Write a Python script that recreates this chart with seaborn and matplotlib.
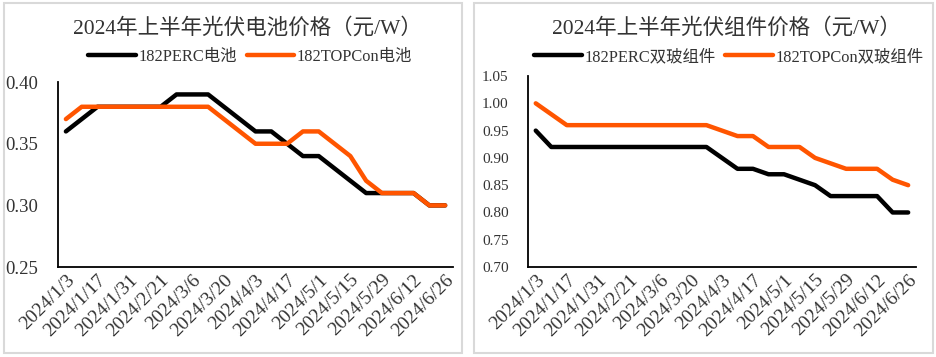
import matplotlib
matplotlib.use('Agg')
import matplotlib.pyplot as plt
import matplotlib.patches as mpatches
import seaborn as sns
import pandas as pd
import numpy as np

sns.set_style('white')
plt.rcParams['font.family'] = ['Liberation Serif', 'Noto Sans CJK SC', 'DejaVu Sans']

# Data (weekly prices, yuan/W)
dates = ['2024/1/3', '2024/1/10', '2024/1/17', '2024/1/24', '2024/1/31', '2024/2/7',
         '2024/2/21', '2024/2/28', '2024/3/6', '2024/3/13', '2024/3/20', '2024/3/27',
         '2024/4/3', '2024/4/10', '2024/4/17', '2024/4/24', '2024/5/1', '2024/5/8',
         '2024/5/15', '2024/5/22', '2024/5/29', '2024/6/5', '2024/6/12', '2024/6/19',
         '2024/6/26']
perc_cell = [0.36, 0.37, 0.38, 0.38, 0.38, 0.38, 0.38, 0.39, 0.39, 0.39, 0.38, 0.37,
             0.36, 0.36, 0.35, 0.34, 0.34, 0.33, 0.32, 0.31, 0.31, 0.31, 0.31, 0.30, 0.30]
topcon_cell = [0.37, 0.38, 0.38, 0.38, 0.38, 0.38, 0.38, 0.38, 0.38, 0.38, 0.37, 0.36,
               0.35, 0.35, 0.35, 0.36, 0.36, 0.35, 0.34, 0.32, 0.31, 0.31, 0.31, 0.30, 0.30]
perc_module = [0.95, 0.92, 0.92, 0.92, 0.92, 0.92, 0.92, 0.92, 0.92, 0.92, 0.92, 0.92,
               0.90, 0.88, 0.88, 0.87, 0.87, 0.86, 0.85, 0.83, 0.83, 0.83, 0.83, 0.80, 0.80]
topcon_module = [1.00, 0.98, 0.96, 0.96, 0.96, 0.96, 0.96, 0.96, 0.96, 0.96, 0.96, 0.96,
                 0.95, 0.94, 0.94, 0.92, 0.92, 0.92, 0.90, 0.89, 0.88, 0.88, 0.88, 0.86, 0.85]

text_col = '#333333'
colors = ['#000000', '#FF5500']

fig = plt.figure(figsize=(9.37, 3.57), dpi=100)

# panel borders
for x0 in [0.004, 0.506]:
    fig.patches.append(mpatches.Rectangle((x0, 0.012), 0.4895, 0.98, transform=fig.transFigure,
                                          fill=False, edgecolor='#d9d9d9', linewidth=1.5))


def draw(ax, s1, s2, names, title, ylim, yticks, ysize, cx):
    df = pd.DataFrame({'x': list(range(len(dates))) * 2,
                       'price': s1 + s2,
                       'series': [names[0]] * len(dates) + [names[1]] * len(dates)})
    sns.lineplot(data=df, x='x', y='price', hue='series', palette=colors, linewidth=3.2,
                 ax=ax, solid_capstyle='round', solid_joinstyle='round')
    ax.set_xlim(-0.5, len(dates) - 0.5)
    ax.set_ylim(*ylim)
    ax.set_yticks(yticks)
    ax.set_yticklabels([f'{v:.2f}' for v in yticks], fontsize=ysize, color=text_col)
    # category boundaries get the tick marks, every other category gets a label
    ax.set_xticks(np.arange(-0.5, len(dates), 1.0))
    ax.set_xticklabels([])
    ax.set_xticks(range(0, len(dates), 2), minor=True)
    ax.set_xticklabels(dates[::2], minor=True, rotation=45, ha='right', rotation_mode='anchor',
                       fontsize=14, color=text_col)
    ax.tick_params(axis='x', which='major', direction='in', length=4, width=1.2, color='black')
    ax.tick_params(axis='x', which='minor', length=0, pad=3)
    ax.tick_params(axis='y', direction='out', length=3, width=1.2, color='black', pad=11)
    for sp in ['top', 'right']:
        ax.spines[sp].set_visible(False)
    for sp in ['left', 'bottom']:
        ax.spines[sp].set_color('black')
        ax.spines[sp].set_linewidth(1.3)
    ax.set_xlabel('')
    ax.set_ylabel('')
    fig.text(cx, 0.922, title, fontsize=15.5, color=text_col, ha='center', va='center')
    ax.legend(loc='center', bbox_to_anchor=(cx + 0.003, 0.84), bbox_transform=fig.transFigure,
              ncol=2, frameon=False, fontsize=11.8, handlelength=2.9, columnspacing=0.6,
              handletextpad=0.15, borderaxespad=0, labelcolor=text_col)


ax1 = fig.add_axes([0.0619, 0.252, 0.4216, 0.518])
draw(ax1, perc_cell, topcon_cell, ['182PERC电池', '182TOPCon电池'],
     '2024年上半年光伏电池价格（元/W）', (0.25, 0.40), [0.25, 0.30, 0.35, 0.40], 13.5, 0.264)

ax2 = fig.add_axes([0.5635, 0.252, 0.414, 0.535])
draw(ax2, perc_module, topcon_module, ['182PERC双玻组件', '182TOPCon双玻组件'],
     '2024年上半年光伏组件价格（元/W）', (0.70, 1.05), np.round(np.arange(0.70, 1.051, 0.05), 2), 11, 0.775)

fig.savefig('out.png', dpi=100)
